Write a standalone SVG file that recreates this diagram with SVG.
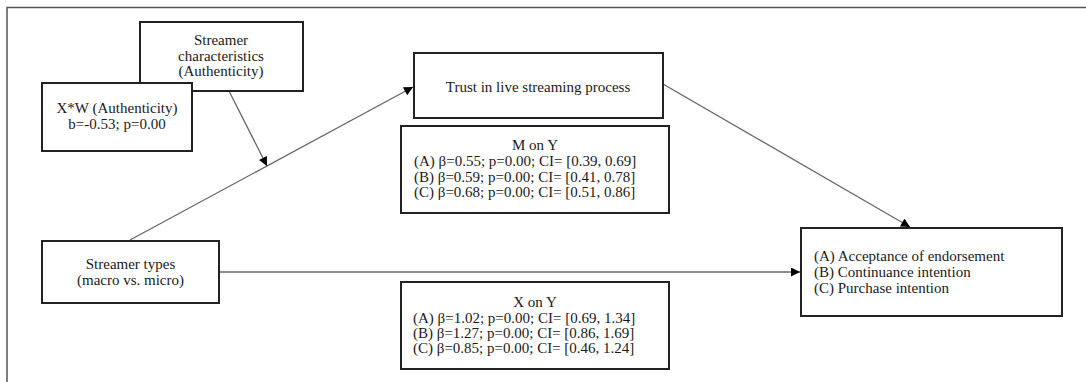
<svg xmlns="http://www.w3.org/2000/svg" width="1086" height="382" viewBox="0 0 1086 382">
  <style>
    .box { fill: #ffffff; stroke: #222222; stroke-width: 2; }
    .conn { stroke: #666666; stroke-width: 1.3; fill: none; }
    .frame { stroke: #555555; stroke-width: 1.5; fill: none; }
    text { font-family: "Liberation Serif", "Times New Roman", serif; font-size: 15px; fill: #1a1a1a; }
    .c { text-anchor: middle; }
  </style>
  <defs>
    <marker id="arrow" viewBox="0 0 10 10" refX="10" refY="5" markerWidth="11" markerHeight="9" markerUnits="userSpaceOnUse" orient="auto">
      <path d="M0,0 L10,5 L0,10 Z" fill="#000000"/>
    </marker>
  </defs>
  <rect width="1086" height="382" fill="#ffffff"/>
  <path class="frame" d="M7,382 L7,7.5 L1086,7.5"/>

  <g id="connectors">
    <line class="conn" x1="130" y1="240" x2="413" y2="87" marker-end="url(#arrow)"/>
    <line class="conn" x1="229" y1="91" x2="267" y2="166" marker-end="url(#arrow)"/>
    <line class="conn" x1="663" y1="84" x2="910" y2="227" marker-end="url(#arrow)"/>
    <line class="conn" x1="219" y1="272" x2="800" y2="272" marker-end="url(#arrow)"/>
  </g>

  <g id="streamer-characteristics">
    <rect class="box" x="140" y="22" width="163" height="69"/>
    <text class="c" x="221" y="45">Streamer</text>
    <text class="c" x="221" y="61">characteristics</text>
    <text class="c" x="221" y="76">(Authenticity)</text>
  </g>

  <g id="interaction">
    <rect class="box" x="42" y="83" width="150" height="68"/>
    <text class="c" x="117" y="113">X*W (Authenticity)</text>
    <text class="c" x="117" y="129">b=-0.53; p=0.00</text>
  </g>

  <g id="trust">
    <rect class="box" x="414" y="53" width="249" height="65"/>
    <text class="c" x="538" y="92">Trust in live streaming process</text>
  </g>

  <g id="m-on-y">
    <rect class="box" x="401" y="126" width="268" height="87"/>
    <text class="c" x="535" y="150">M on Y</text>
    <text x="414" y="166">(A) β=0.55; p=0.00; CI= [0.39, 0.69]</text>
    <text x="414" y="181.5">(B) β=0.59; p=0.00; CI= [0.41, 0.78]</text>
    <text x="414" y="197">(C) β=0.68; p=0.00; CI= [0.51, 0.86]</text>
  </g>

  <g id="streamer-types">
    <rect class="box" x="42" y="241" width="177" height="62"/>
    <text class="c" x="130.5" y="269">Streamer types</text>
    <text class="c" x="130.5" y="285">(macro vs. micro)</text>
  </g>

  <g id="x-on-y">
    <rect class="box" x="401" y="282" width="268" height="87"/>
    <text class="c" x="535" y="307">X on Y</text>
    <text x="413" y="323">(A) β=1.02; p=0.00; CI= [0.69, 1.34]</text>
    <text x="413" y="338">(B) β=1.27; p=0.00; CI= [0.86, 1.69]</text>
    <text x="413" y="353">(C) β=0.85; p=0.00; CI= [0.46, 1.24]</text>
  </g>

  <g id="outcomes">
    <rect class="box" x="801" y="228" width="261" height="88"/>
    <text x="814" y="261">(A) Acceptance of endorsement</text>
    <text x="814" y="277">(B) Continuance intention</text>
    <text x="814" y="293">(C) Purchase intention</text>
  </g>
</svg>
